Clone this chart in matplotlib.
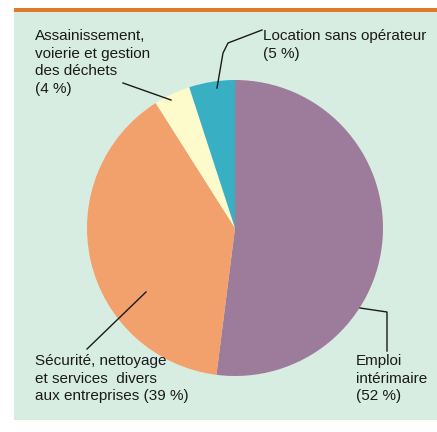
"""Répartition par activité — pie chart with leader lines on a mint panel."""
import matplotlib.pyplot as plt
from matplotlib.patches import Rectangle

plt.rcParams['font.family'] = ['Liberation Sans', 'DejaVu Sans']

# clockwise from 12 o'clock
activities = ["Emploi intérimaire", "Sécurité, nettoyage et services divers",
              "Assainissement, voierie et gestion des déchets",
              "Location sans opérateur"]
shares = [52, 39, 4, 5]
colors = ["#9C7B9B", "#F2A06C", "#FDFACB", "#38AFC3"]

labels = [
    "Emploi\nintérimaire\n(52 %)",
    "Sécurité, nettoyage\net services  divers\naux entreprises (39 %)",
    "Assainissement,\nvoierie et gestion\ndes déchets\n(4 %)",
    "Location sans opérateur\n(5 %)",
]

W, H = 437, 432
fig = plt.figure(figsize=(W / 100, H / 100), dpi=100)
ax = fig.add_axes([0, 0, 1, 1])


def Y(y):
    # image row -> data y
    return H - y


# panel + top rule
ax.add_patch(Rectangle((14, Y(420)), W - 14, 408, facecolor="#D8EDE2",
                       edgecolor="none", zorder=0))
ax.add_patch(Rectangle((14, Y(11.5)), W - 14, 3.5, facecolor="#E07A2A",
                       edgecolor="none", zorder=0))

ax.pie(shares, colors=colors, startangle=90, counterclock=False,
       center=(235, Y(228)), radius=148, frame=True,
       wedgeprops=dict(linewidth=0))

# leader lines
lc = dict(color="#1a1a1a", lw=1.0, zorder=5)
ax.plot([360, 387, 387], [Y(308), Y(312), Y(351)], **lc)
ax.plot([87, 146], [Y(349), Y(292)], **lc)
ax.plot([123, 171], [Y(83), Y(100)], **lc)
ax.plot([217, 223, 228, 262], [Y(88), Y(53), Y(43), Y(30)], **lc)

tk = dict(fontsize=11, color="#1a1a1a", va="top", ha="left",
          linespacing=1.33, zorder=6)
ax.text(35, Y(29), labels[2], **tk)
ax.text(263, Y(29), labels[3], **tk)
ax.text(35, Y(354), labels[1], **tk)
ax.text(356, Y(354), labels[0], **tk)

ax.set_xlim(0, W)
ax.set_ylim(0, H)
ax.set_aspect("equal")
ax.axis("off")

fig.savefig("out.png", dpi=100, facecolor="white")
